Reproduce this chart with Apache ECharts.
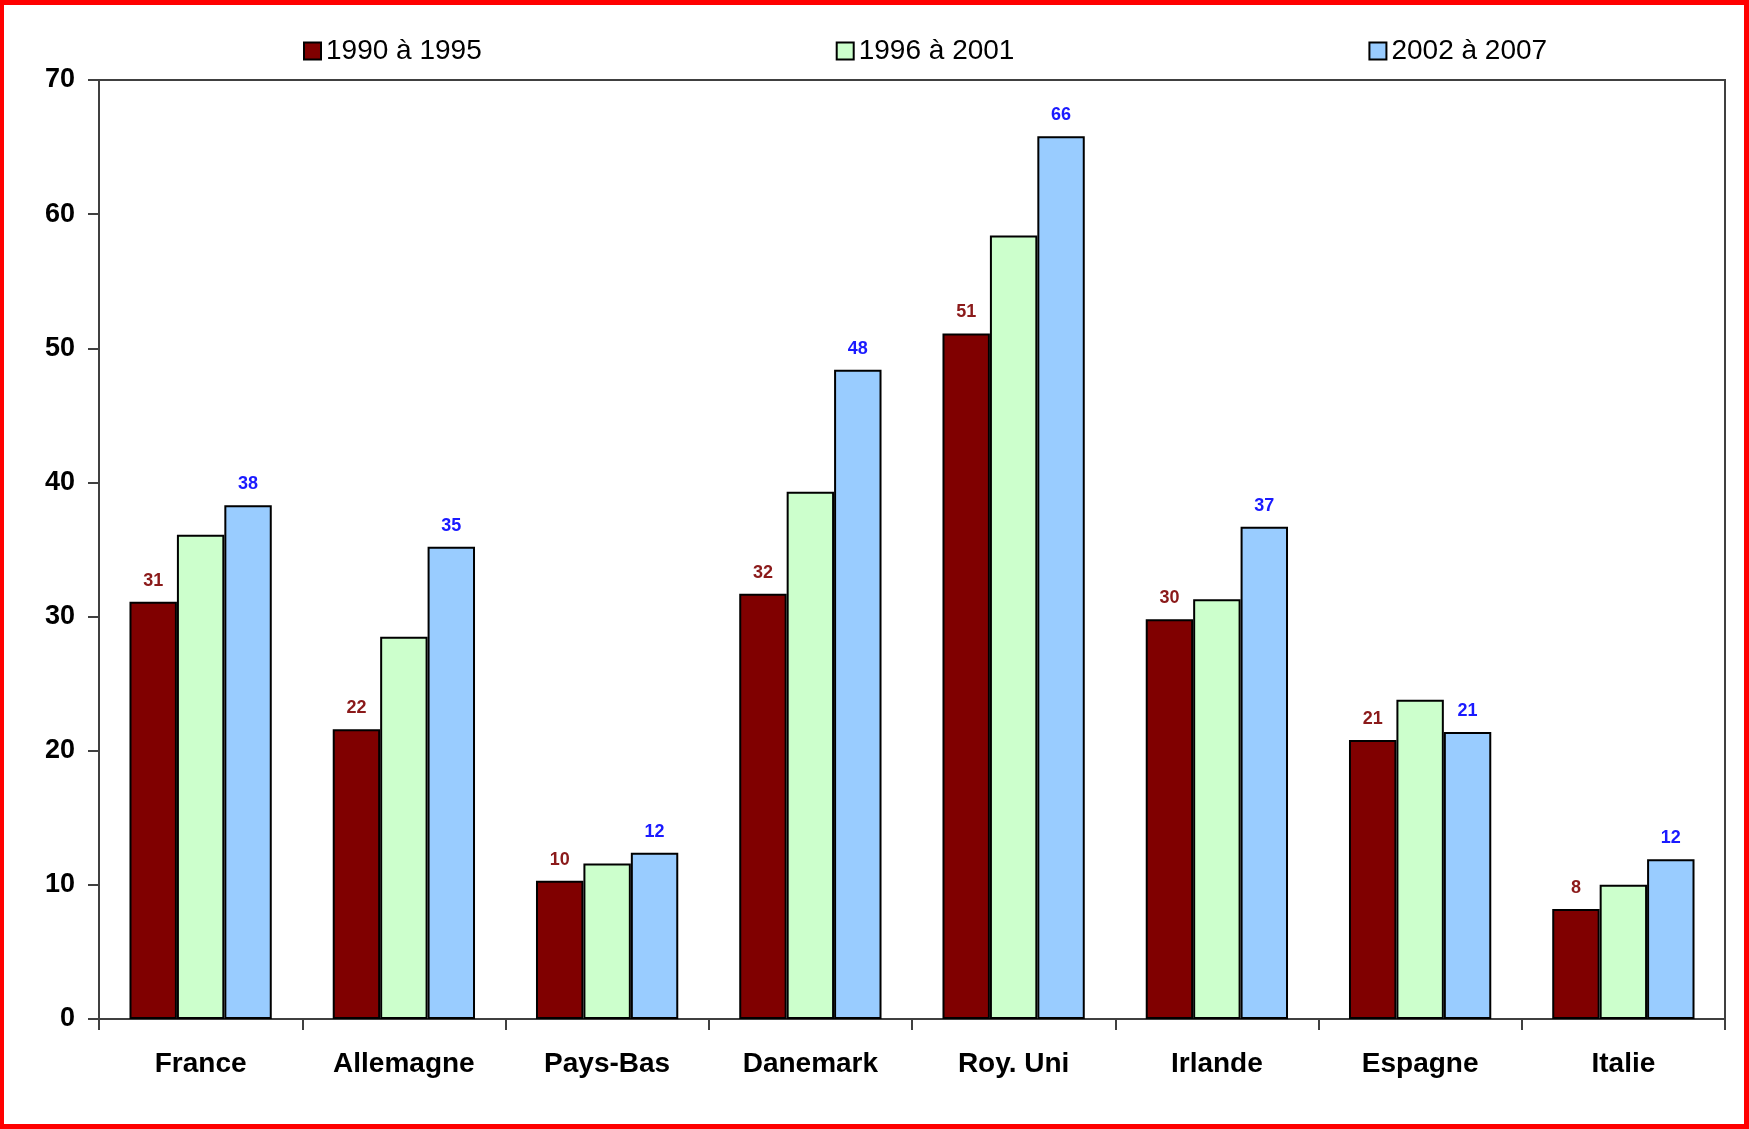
<!DOCTYPE html>
<html>
<head>
<meta charset="utf-8">
<script src="https://cdn.jsdelivr.net/npm/echarts@6/dist/echarts.min.js"></script>
<style>
  html, body { margin: 0; padding: 0; background: #fff; }
  #frame { width: 1749px; height: 1129px; box-sizing: border-box; border: 5px solid #ff0000; border-left-width: 4px; }
  #chart { position: absolute; left: 0; top: 0; width: 1749px; height: 1129px; }
</style>
</head>
<body>
<div id="frame"></div>
<div id="chart"></div>
<script>
// catégories (pays)
var countries = ['France', 'Allemagne', 'Pays-Bas', 'Danemark', 'Roy. Uni', 'Irlande', 'Espagne', 'Italie']
var seriesNames = ['1990 à 1995', '1996 à 2001', '2002 à 2007']
// valeurs
var p1990 = [31.1, 21.6, 10.3, 31.7, 51.1, 29.8, 20.8, 8.2]
var p1996 = [36.1, 28.5, 11.6, 39.3, 58.4, 31.3, 23.8, 10.0]
var p2002 = [38.3, 35.2, 12.4, 48.4, 65.8, 36.7, 21.4, 11.9]
var yTicks = [0, 10, 20, 30, 40, 50, 60, 70]

var font = '"Liberation Sans", Arial, sans-serif'

function barSerie(name, data, color, labelColor) {
  return {
    name: name,
    type: 'bar',
    data: data,
    barGap: '0%',
    barCategoryGap: '30%',
    itemStyle: {
      color: color,
      borderColor: '#000',
      borderWidth: 2
    },
    label: {
      show: !!labelColor,
      position: 'top',
      distance: 12,
      color: labelColor,
      fontFamily: font,
      fontWeight: 'bold',
      fontSize: 18,
      formatter: function (p) { return Math.round(p.value) }
    }
  }
}

var myChart = echarts.init(document.getElementById('chart'))
myChart.setOption({
  animation: false,
  backgroundColor: 'transparent',
  legend: {
    data: seriesNames,
    icon: 'rect',
    left: 298,
    top: 32,
    itemWidth: 17,
    itemHeight: 17,
    itemGap: 354,
    textStyle: { fontFamily: font, fontSize: 28, color: '#000' }
  },
  grid: {
    left: 99,
    right: 24,
    top: 80,
    bottom: 110,
    show: true,
    borderColor: '#404040',
    borderWidth: 2
  },
  xAxis: {
    type: 'category',
    data: countries,
    axisLine: { lineStyle: { color: '#404040', width: 2 } },
    axisTick: { show: true, length: 11, lineStyle: { color: '#404040', width: 2 } },
    axisLabel: {
      margin: 31,
      fontFamily: font,
      fontSize: 28,
      fontWeight: 'bold',
      color: '#000'
    }
  },
  yAxis: {
    type: 'value',
    min: yTicks[0],
    max: yTicks[yTicks.length - 1],
    interval: 10,
    splitLine: { show: false },
    axisLine: { show: true, lineStyle: { color: '#404040', width: 2 } },
    axisTick: { show: true, length: 11, lineStyle: { color: '#404040', width: 2 } },
    axisLabel: {
      margin: 24,
      fontFamily: font,
      fontSize: 27,
      fontWeight: 'bold',
      color: '#000'
    }
  },
  series: [
    barSerie(seriesNames[0], p1990, '#800000', '#8b1a1a'),
    barSerie(seriesNames[1], p1996, '#ccffcc', null),
    barSerie(seriesNames[2], p2002, '#99ccff', '#1a1aff')
  ]
})
</script>
</body>
</html>
